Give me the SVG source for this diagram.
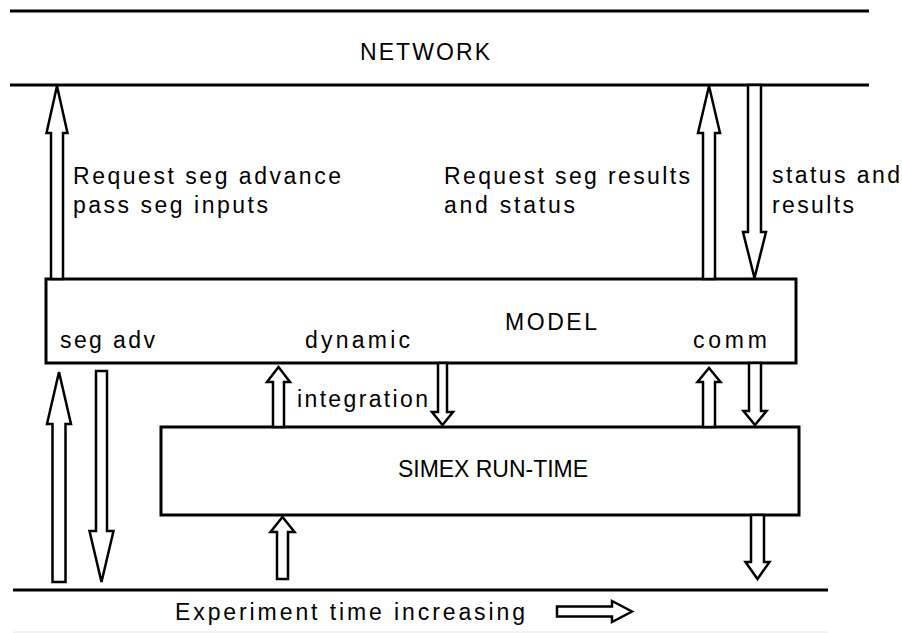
<svg xmlns="http://www.w3.org/2000/svg" width="902" height="633" viewBox="0 0 902 633">
<style>
.ln{stroke:#000;stroke-width:3;fill:none}
.box{stroke:#000;stroke-width:3;fill:#fff}
.ar{stroke:#000;stroke-width:2.5;fill:#fff;stroke-linejoin:miter}
text{font-family:"Liberation Sans",Arial,sans-serif;font-size:23px;fill:#000}
</style>
<rect width="902" height="633" fill="#fff"/>
<g id="network">
<line class="ln" x1="10" y1="11" x2="869" y2="11"/>
<line class="ln" x1="10" y1="85" x2="869" y2="85"/>
<text x="360" y="60" textLength="130">NETWORK</text>
</g>
<g id="model">
<rect class="box" x="46" y="279" width="750" height="84"/>
<text x="505" y="330" textLength="92">MODEL</text>
<text x="60" y="348" textLength="95">seg adv</text>
<text x="305" y="348" textLength="105">dynamic</text>
<text x="693" y="348" textLength="74">comm</text>
</g>
<g id="simex">
<rect class="box" x="161" y="427" width="638" height="88"/>
<text x="398" y="477" textLength="190">SIMEX RUN-TIME</text>
</g>
<g id="timeline">
<line class="ln" x1="13" y1="590" x2="828" y2="590"/>
<line x1="13" y1="632" x2="828" y2="632" stroke="#e6e6e6" stroke-width="1"/>
<text x="175" y="620" textLength="350">Experiment time increasing</text>
</g>
<g id="connectors">
<polygon class="ar" points="57,86 67.5,133 63,133 63,279 51,279 51,133 46.5,133"/>
<polygon class="ar" points="709,86 720,133 715,133 715,279 703,279 703,133 698,133"/>
<polygon class="ar" points="754.5,278 766,232 761,232 761,85 748,85 748,232 743,232"/>
<polygon class="ar" points="59,372 71,424 65.5,424 65.5,582 52.5,582 52.5,424 47,424"/>
<polygon class="ar" points="101.5,582 113.5,531 107,531 107,371 96,371 96,531 89.5,531"/>
<polygon class="ar" points="278.5,367 290,382 284,382 284,427 273,427 273,382 267,382"/>
<polygon class="ar" points="442.5,425 453,412 447,412 447,363 438,363 438,412 432,412"/>
<polygon class="ar" points="282.5,517 294.5,532 288,532 288,579 277,579 277,532 270.5,532"/>
<polygon class="ar" points="709,368 720.5,382 715,382 715,427 703,427 703,382 697.5,382"/>
<polygon class="ar" points="755,425 766.5,411 761,411 761,363 749,363 749,411 743.5,411"/>
<polygon class="ar" points="757.5,579 769.5,562 764,562 764,515 751,515 751,562 745.5,562"/>
<polygon class="ar" points="632,611.5 612,601 612,606.5 557,606.5 557,616.5 612,616.5 612,622"/>
</g>
<g id="labels">
<text x="73" y="184" textLength="268">Request seg advance</text>
<text x="73" y="213" textLength="195">pass seg inputs</text>
<text x="444" y="184" textLength="246">Request seg results</text>
<text x="444" y="213" textLength="131">and status</text>
<text x="772" y="183" textLength="128">status and</text>
<text x="772" y="213" textLength="82">results</text>
<text x="297" y="407" textLength="131">integration</text>
</g>
</svg>
